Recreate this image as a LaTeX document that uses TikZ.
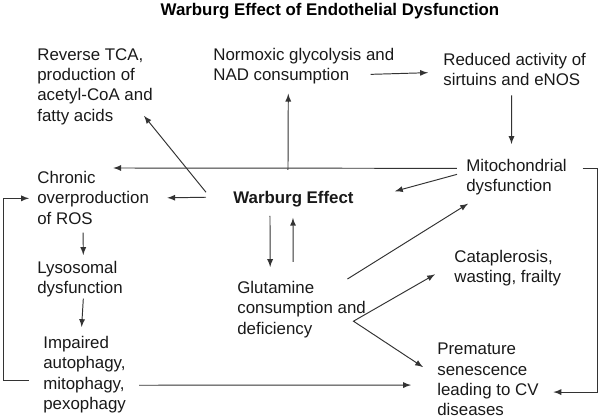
\documentclass[tikz,border=0pt]{standalone}
\usepackage{fontspec}
\setmainfont{Liberation Sans}
\usepackage{xcolor}
\usetikzlibrary{arrows,positioning}

\begin{document}
\begin{tikzpicture}[x=0.02cm, y=-0.02cm,
    txt/.style={anchor=north west, inner sep=0pt, align=left, text=black!90,
        font=\fontsize{9.6}{11.55}\selectfont},
    arr/.style={-latex, line width=0.55pt, draw=black!80}]
    \useasboundingbox (0,0) rectangle (600,418);

    % title
    \node[anchor=north, inner sep=0pt, font=\fontsize{9.6}{11.55}\selectfont\bfseries] (title) at (330,3)
        {Warburg Effect of Endothelial Dysfunction};

    % boxes of text
    \node[txt] (tca) at (37,48) {Reverse TCA,\\production of\\acetyl-CoA and\\fatty acids};
    \node[txt] (glyc) at (213,48) {Normoxic glycolysis and\\NAD consumption};
    \node[txt] (sirt) at (443,53) {Reduced activity of\\sirtuins and eNOS};
    \node[txt] (mito) at (466,159) {Mitochondrial\\dysfunction};
    \node[txt] (ros) at (37,171) {Chronic\\overproduction\\of ROS};
    \node[txt, font=\fontsize{9.6}{11.55}\selectfont\bfseries] (warb) at (233,191) {Warburg Effect};
    \node[txt] (lyso) at (37,261) {Lysosomal\\dysfunction};
    \node[txt] (glut) at (237,281) {Glutamine\\consumption and\\deficiency};
    \node[txt] (cata) at (454,250) {Cataplerosis,\\wasting, frailty};
    \node[txt] (auto) at (43,336) {Impaired\\autophagy,\\mitophagy,\\pexophagy};
    \node[txt] (prem) at (437,343) {Premature\\senescence\\leading to CV\\diseases};

    % connectors
    \draw[arr] ([shift={(-27,-7)}]warb.west) -- ([shift={(-9,-9)}]tca.south east);
    \draw[arr] ([shift={(-27,-2)}]warb.west) -- ([shift={(18,0)}]ros.east);
    \draw[arr] ([shift={(-5.5,-21)}]warb.north) -- ([shift={(-15.5,9)}]glyc.south);
    \draw[arr] ([shift={(-24,8)}]glyc.east) -- ([shift={(-15,3)}]sirt.west);
    \draw[arr] ([shift={(-3,9)}]sirt.south) -- ([shift={(-5,-15)}]mito.north);
    \draw[arr] ([shift={(-9,-9)}]mito.west) -- ([shift={(-36,-3)}]ros.north east);
    \draw[arr] ([shift={(-9,-3)}]mito.west) -- ([shift={(41,-8)}]warb.east);
    \draw[arr] ([shift={(15.5,-9)}]mito.east) -- ++(15,0) |- ([shift={(14.5,12.4)}]prem.east);
    \draw[arr] ([shift={(-23.5,8.4)}]warb.south) -- ([shift={(-31.4,-14)}]glut.north);
    \draw[arr] ([shift={(-8.4,-19)}]glut.north) -- ([shift={(-0.5,10.4)}]warb.south);
    \draw[arr] ([shift={(-18.7,-2)}]glut.north east) -- ([shift={(2,8)}]mito.south west);
    \draw[arr, latex-latex] ([shift={(-19,6)}]cata.west) -- ([shift={(-12.7,11.7)}]glut.east)
        -- ([shift={(-14,-12.6)}]prem.west);
    \draw[arr] ([shift={(13,10.6)}]auto.east) -- ([shift={(-26,5.4)}]prem.west);
    \draw[arr] ([shift={(-14,5.6)}]auto.west) -- ++(-26,0) |- ([shift={(-8,0.5)}]ros.west);
    \draw[arr] ([shift={(-10,8)}]ros.south) -- ([shift={(3.3,-6)}]lyso.north);
    \draw[arr] ([shift={(3.3,1)}]lyso.south) -- ([shift={(-3,-9)}]auto.north);
\end{tikzpicture}
\end{document}
